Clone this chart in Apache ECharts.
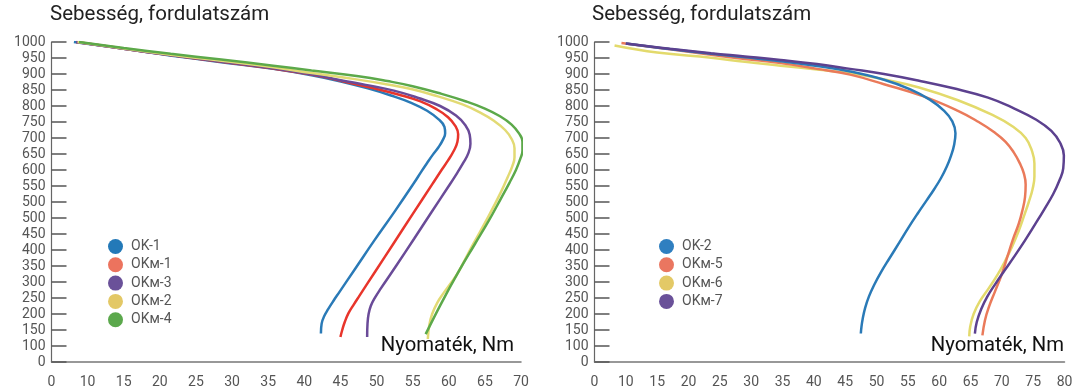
<!DOCTYPE html>
<html>
<head>
<meta charset="utf-8">
<script src="https://cdn.jsdelivr.net/npm/echarts@6/dist/echarts.min.js"></script>
<style>
html,body{margin:0;padding:0;background:#fff;}
#chart{width:1081px;height:391px;}
</style>
</head>
<body>
<div id="chart"></div>
<script>
// ---- Tick labels (as printed in the original, including its typos) ----
const yTickLabels = ['0','100','150','200','250','300','350','400','450','500','500','550','600','650','700','750','800','850','900','950','1000'];
const xTickLabelsLeft = ['0','10','15','20','25','30','35','40','45','50','55','60','65','70'];
const xTickLabelsRight = ['0','10','15','20','25','30','35','40','45','50','55','60','65','70','75','80'];

const yAxisTitle = 'Sebesség, fordulatszám';
const xAxisTitle = 'Nyomaték, Nm';

// ---- Left panel series: [torque, speed] ----
const leftNames = ['OK-1','OKм-1','OKм-3','OKм-2','OKм-4'];
const leftOK1 = [[8.1,1000],[15,979],[21.4,958],[28.5,937],[35.7,916],[41,896],[45.2,876],[48.8,855],[52.0,833],[54.8,810],[57.0,785],[58.6,758],[59.4,735],[59.5,715],[59.2,695],[58.6,672],[57.8,648],[57.0,622],[56.2,595],[55.2,560],[52.5,470],[49.7,380],[47.0,290],[44.9,220],[44.0,190],[43.3,165],[42.8,145],[42.4,120],[42.3,89]];
const leftOKm1 = [[8.4,1000],[15,979],[21.4,959],[28.5,938],[35.7,917],[41,898],[45.2,878],[49.5,856],[53.0,836],[56.0,815],[58.3,790],[59.9,765],[60.9,738],[61.3,712],[61.2,688],[60.7,660],[59.9,630],[59.0,600],[57.7,555],[55.0,462],[52.4,372],[49.8,282],[47.6,206],[46.8,178],[46.1,152],[45.6,125],[45.25,100],[45.0,78]];
const leftOKm3 = [[8.4,1000],[15,979],[21.4,959],[28.5,939],[35.7,918],[41,899],[45.2,880],[48.5,866],[52.4,848],[55.8,825],[58.8,800],[61.0,770],[62.3,740],[62.9,710],[63.0,682],[62.7,652],[62.0,622],[61.0,585],[60.0,550],[57.6,468],[55.2,385],[52.7,300],[50.6,230],[49.7,198],[49.2,175],[48.9,150],[48.75,120],[48.7,78]];
const leftOKm2 = [[8.6,1000],[15,980],[21.5,960],[28.5,941],[35.7,921],[41,903],[47,884],[51.3,868],[54.8,853],[58.5,830],[61.9,805],[64.3,780],[66.3,753],[67.8,725],[68.7,697],[69.1,668],[69.1,640],[68.8,612],[68.2,580],[67.2,530],[65.5,455],[63.3,365],[61.3,280],[60.4,250],[59.3,216],[58.4,185],[57.7,150],[57.3,115],[57.1,72]];
const leftOKm4 = [[8.8,1000],[15,981],[21.5,963],[28.5,945],[35.7,926],[41,911],[47.5,893],[51.5,878],[55,862],[59,838],[62.3,815],[65,792],[67.1,768],[68.7,742],[69.7,715],[70.2,688],[70.2,660],[69.9,635],[69.3,600],[68.4,560],[67.2,510],[65.5,440],[63.6,368],[61.3,280],[59.0,185],[56.8,87]];

// ---- Right panel series ----
const rightNames = ['OK-2','OKм-5','OKм-6','OKм-7'];
const rightOK2 = [[10.0,995],[17,978],[23.6,963],[29,952],[34.7,940],[40.5,925],[45.8,908],[51.2,882],[55.4,852],[58.5,820],[60.8,785],[62.1,752],[62.6,715],[62.4,680],[61.9,645],[61.2,610],[60.3,575],[59.2,540],[58.0,505],[56.6,465],[55.1,420],[53.6,372],[52.1,325],[50.7,280],[49.6,240],[48.8,205],[48.2,170],[47.8,135],[47.6,110],[47.5,89]];
const rightOKm5 = [[9.3,997],[17,977],[23.6,960],[29,947],[34.7,934],[40.5,916],[45.8,898],[51.2,868],[57.5,830],[63,785],[66.3,750],[68.8,718],[70.6,688],[71.9,655],[72.9,620],[73.5,590],[73.8,555],[73.7,515],[73.3,475],[72.7,432],[71.8,385],[70.9,330],[70.0,275],[68.9,220],[67.9,170],[67.3,130],[66.9,83]];
const rightOKm6 = [[8.2,989],[15,967],[23.6,951],[29,938],[34.7,926],[40.5,914],[45.8,902],[51.5,882],[56.8,858],[63,818],[68.5,772],[71.8,735],[73.8,700],[74.8,660],[75.2,620],[75.2,580],[74.9,540],[74.3,500],[73.6,460],[72.7,410],[71.6,359],[70.5,315],[69.3,272],[67.9,230],[66.5,190],[65.5,150],[64.95,110],[64.8,80]];
const rightOKm7 = [[10.0,995],[17,979],[23.6,965],[29,955],[34.7,944],[40.5,931],[45.8,916],[51.2,900],[56.8,879],[62.1,856],[67.8,826],[72.0,792],[75.5,757],[77.9,722],[79.3,685],[79.9,645],[79.8,605],[79.2,568],[78.2,525],[76.8,478],[75.3,430],[73.7,380],[72.0,330],[70.4,285],[69.0,245],[67.7,205],[66.7,165],[66.0,125],[65.7,89]];

// ---- Colours ----
const leftLineColors = ['#2a7ab7','#e8352b','#6a4b98','#e2da74','#5ca94a'];
const leftLegendColors = ['#2379b8','#ec735e','#6a5199','#e3c866','#5ba84c'];
const rightLineColors = ['#2a7ab7','#ea7a5a','#e3da6c','#5c418f'];
const rightLegendColors = ['#2f7fc0','#ea7660','#e3c966','#6a5199'];

const chart = echarts.init(document.getElementById('chart'), null, {renderer:'canvas'});

const fontFam = 'Roboto, "Noto Sans", sans-serif';

function yAxisDef(gridIndex){
  return {
    type:'value', gridIndex, min:0, max:1000, interval:50,
    axisLine:{show:true, lineStyle:{color:'#666', width:1.2}},
    axisTick:{show:true, inside:true, length:15, lineStyle:{color:'#555', width:1.5}},
    splitLine:{show:false},
    axisLabel:{color:'#555', fontSize:14, fontFamily:fontFam, margin:6,
      formatter:v=>yTickLabels[Math.round(v/50)]}
  };
}
function xAxisDef(gridIndex, max, labels){
  return {
    type:'value', gridIndex, min:5, max:max, interval:5,
    axisLine:{show:true, onZero:false, lineStyle:{color:'#777', width:1.5}},
    axisTick:{show:false},
    splitLine:{show:false},
    axisLabel:{color:'#555', fontSize:14, fontFamily:fontFam, margin:13,
      formatter:v=>labels[Math.round((v-5)/5)]}
  };
}
function lineSeries(name, data, color, legendColor, xi, yi){
  return {
    name, type:'line', data, xAxisIndex:xi, yAxisIndex:yi,
    smooth:0.45, showSymbol:false, symbol:'none',
    lineStyle:{color, width:2.5},
    itemStyle:{color:legendColor},
    animation:false
  };
}

const leftData = [leftOK1, leftOKm1, leftOKm3, leftOKm2, leftOKm4];
const rightData = [rightOK2, rightOKm5, rightOKm6, rightOKm7];

const series = [];
leftNames.forEach((n,i)=>series.push(lineSeries(n, leftData[i], leftLineColors[i], leftLegendColors[i], 0, 0)));
[2,1,0,3].forEach(i=>series.push(lineSeries(rightNames[i], rightData[i], rightLineColors[i], rightLegendColors[i], 1, 1)));

function legendDef(names, colors, left){
  return {
    orient:'vertical', left, top:234, itemWidth:15, itemHeight:15, itemGap:3.3,
    icon:'circle', selectedMode:false,
    textStyle:{color:'#555', fontSize:14, fontFamily:fontFam, padding:[0,0,0,3]},
    data:names.map((n,i)=>({name:n, icon:'circle', itemStyle:{color:colors[i]}}))
  };
}

chart.setOption({
  animation:false,
  backgroundColor:'#fff',
  grid:[
    {left:51.5, top:42, width:469.5, height:320},
    {left:594.5, top:42, width:470, height:320}
  ],
  xAxis:[xAxisDef(0,70,xTickLabelsLeft), xAxisDef(1,80,xTickLabelsRight)],
  yAxis:[yAxisDef(0), yAxisDef(1)],
  legend:[legendDef(leftNames, leftLegendColors, 103), legendDef(rightNames, rightLegendColors, 654)],
  graphic:[
    {type:'text', left:50, top:4, style:{text:yAxisTitle, font:'20.5px Roboto', fill:'#222'}},
    {type:'text', left:592, top:4, style:{text:yAxisTitle, font:'20.5px Roboto', fill:'#222'}},
    {type:'text', right:567, top:336, style:{text:xAxisTitle, font:'20.3px Roboto', fill:'#111'}},
    {type:'text', right:17, top:336, style:{text:xAxisTitle, font:'20.3px Roboto', fill:'#111'}}
  ],
  series
});
</script>
</body>
</html>
